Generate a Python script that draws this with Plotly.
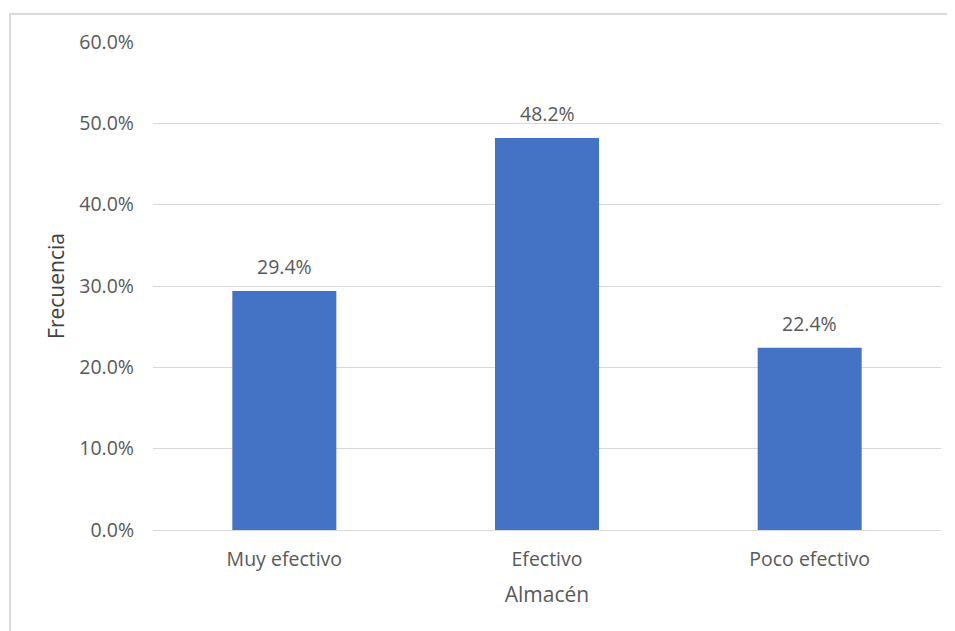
import plotly.graph_objects as go

categories = ["Muy efectivo", "Efectivo", "Poco efectivo"]
values = [29.4, 48.2, 22.4]
y_ticks = [0, 10, 20, 30, 40, 50, 60]
y_tick_labels = ["0.0%", "10.0%", "20.0%", "30.0%", "40.0%", "50.0%", "60.0%"]

font_fam = "Open Sans, Liberation Sans, sans-serif"
gray = "#595959"
fs = 19.5

fig = go.Figure(go.Bar(
    x=categories, y=values,
    marker=dict(color="#4472C4", line=dict(width=0)),
    hoverinfo="x+y",
))

for c, v in zip(categories, values):
    fig.add_annotation(
        x=c, y=v, text=f"{v:.1f}%", showarrow=False,
        yanchor="bottom", yshift=9,
        font=dict(family=font_fam, size=fs, color=gray),
    )

W, H = 947, 623
l, r, t, b = 145, 14, 34, 101
pw, ph = W - l - r, H - t - b

fig.update_layout(
    width=W, height=H,
    margin=dict(l=l, r=r, t=t, b=b),
    paper_bgcolor="white", plot_bgcolor="white",
    bargap=0.604,
    showlegend=False,
    font=dict(family=font_fam, size=fs, color=gray),
    xaxis=dict(
        title=dict(text="Almacén", font=dict(size=21, color=gray), standoff=15),
        showgrid=False, showline=True, linecolor="#d9d9d9", linewidth=1,
        ticks="", tickfont=dict(size=fs, color=gray), ticklabelstandoff=12,
    ),
    yaxis=dict(
        title=dict(text="Frecuencia", font=dict(size=21, color="#404040"), standoff=8),
        range=[0, 60], tickvals=y_ticks, ticktext=y_tick_labels,
        showgrid=True, gridcolor="#d9d9d9", gridwidth=1,
        zeroline=False, showline=False, ticks="",
        tickfont=dict(size=fs, color=gray), ticklabelstandoff=18,
    ),
    shapes=[dict(
        type="rect", xref="paper", yref="paper",
        x0=(2 - l) / pw, x1=1.2,
        y0=-0.4, y1=(H - b - 6) / ph,
        line=dict(color="#d9d9d9", width=2), fillcolor="rgba(0,0,0,0)",
        layer="below",
    )],
)

fig.write_html("out.html")
